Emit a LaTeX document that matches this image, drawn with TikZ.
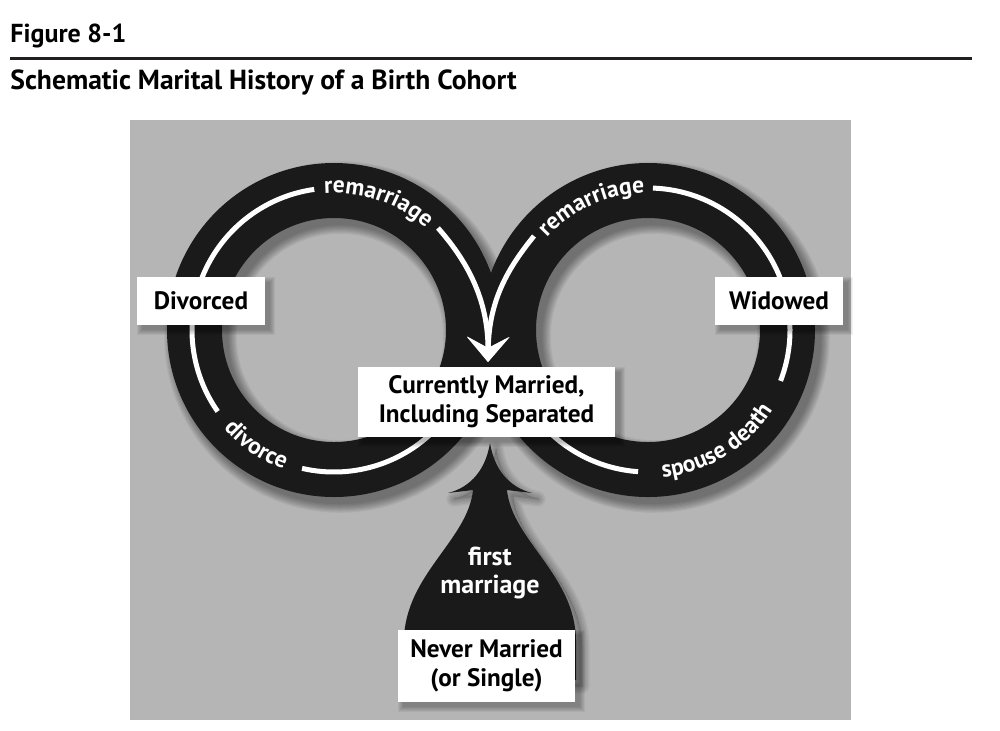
\documentclass[tikz,border=0pt]{standalone}
\usepackage{fontspec}
\setmainfont{PT Sans}
\usetikzlibrary{arrows.meta,calc,decorations.text}
\definecolor{bggray}{RGB}{181,181,181}
\definecolor{ringblack}{RGB}{26,26,26}
\definecolor{rulecol}{RGB}{35,31,32}
\tikzset{
  ring/.style={draw=ringblack, line width=27.5pt},
  stripe/.style={draw=white, line width=2.5pt, line cap=butt},
  junctiontip/.style={-{Stealth[length=12.5pt, width=21pt, inset=5.5pt]}},
  statebox/.style={fill=white, inner sep=0pt, align=center, text=black,
    font=\fontsize{12.6}{14.5}\selectfont\bfseries},
  headfont/.style={anchor=base west, inner sep=0pt, font=\fontsize{13}{15}\selectfont\bfseries},
  ringlabel/.style={decorate, decoration={text along path, text align=center,
    text color=white, text={|\fontsize{11.8}{13}\selectfont\bfseries|#1}}},
  fmshape/.style={insert path={(490,443) .. controls (486,468) and (472,487) .. (448,493)
    -- (473,490) .. controls (468,540) and (405,575) .. (404,640) -- (404,680) -- (576,680)
    -- (576,640) .. controls (575,575) and (512,540) .. (507,490) -- (532,493)
    .. controls (508,487) and (494,468) .. (490,443) -- cycle}},
}
\newcommand\softshadow[4]{%
  \foreach \k in {0,...,5}{%
    \fill[black, opacity=0.05] ({#1+5-\k},{#2+5-\k}) rectangle ({#3+5+\k},{#4+5+\k});}}
\begin{document}
\begin{tikzpicture}[x=0.5pt,y=-0.5pt]
\useasboundingbox (0,0) rectangle (1000,730);
\fill[white] (0,0) rectangle (1000,730);
% header
\node[headfont] (fig) at (10,42) {Figure 8-1};
\coordinate (ruleL) at (10,58);
\coordinate (ruleR) at (972,58);
\draw[rulecol, line width=1.5pt] (ruleL) -- (ruleR);
\node[headfont, font=\fontsize{13.8}{15}\selectfont\bfseries] (title) at (10,89) {Schematic Marital History of a Birth Cohort};
% panel
\fill[bggray] (130,120) rectangle (851,720);
\coordinate (Lc) at (334,330);
\coordinate (Rc) at (648,330);
% shadows of rings and arrow
\foreach \k in {0,...,7}{%
  \pgfmathsetmacro\lw{(55+2.5*\k)*0.5}
  \draw[black, opacity=0.055, line width=\lw pt] ($(Lc)+(6,7)$) circle[radius=139.5];
  \draw[black, opacity=0.055, line width=\lw pt] ($(Rc)+(6,7)$) circle[radius=139.5];
}
\foreach \k in {0,...,5}{%
  \pgfmathsetmacro\lw{1.5*\k}
  \draw[black, opacity=0.05, line width=\lw pt, line join=round, shift={(6,6)}, fmshape];
}
\fill[black, opacity=0.1, shift={(6,6)}, fmshape];
% rings and arrow
\draw[ring] (Lc) circle[radius=139.5];
\draw[ring] (Rc) circle[radius=139.5];
\fill[ringblack, fmshape];
% white flow stripes
\draw[stripe] ($(Lc)+(-165:142)$) arc[start angle=-165, end angle=-98, radius=142];
\draw[stripe] ($(Lc)+(185:142)$) arc[start angle=185, end angle=145, radius=142];
\draw[stripe] ($(Lc)+(40:142)$) arc[start angle=40, end angle=103, radius=142];
\draw[stripe] ($(Rc)+(-88:142)$) arc[start angle=-88, end angle=-10, radius=142];
\draw[stripe] ($(Rc)+(-3:142)$) arc[start angle=-3, end angle=21, radius=142];
\draw[stripe] ($(Rc)+(94:142)$) arc[start angle=94, end angle=140, radius=142];
\coordinate (J) at (488,362);
\coordinate (lrem) at (438,228);
\coordinate (rrem) at (534,236);
\draw[stripe, junctiontip] (lrem) .. controls (468,262) and (488,300) .. (J);
\draw[stripe, junctiontip] (rrem) .. controls (508,268) and (489,300) .. (J);
% ring labels
\path[ringlabel=remarriage] ($(Lc)+(-130:137)$) arc[start angle=-130, end angle=-12, radius=137];
\path[ringlabel=divorce] ($(Lc)+(175:148)$) arc[start angle=175, end angle=73, radius=148];
\path[ringlabel=remarriage] ($(Rc)+(-173:137)$) arc[start angle=-173, end angle=-56, radius=137];
\path[ringlabel={spouse death}] ($(Rc)+(117:148)$) arc[start angle=117, end angle=0, radius=148];
\node[font=\fontsize{13}{14}\selectfont\bfseries, text=white, align=center, inner sep=0pt] (fm) at (490,573) {first\\marriage};
% boxes
\softshadow{358}{367}{615}{437}
\softshadow{137}{277}{265}{325}
\softshadow{715}{277}{843}{325}
\softshadow{398}{630}{575}{702}
\node[statebox, minimum width=128.5pt, minimum height=35pt] (married) at (486.5,402) {Currently Married,\\Including Separated};
\node[statebox, minimum width=64pt, minimum height=24pt] (divorced) at (201,301) {Divorced};
\node[statebox, minimum width=64pt, minimum height=24pt] (widowed) at (779,301) {Widowed};
\node[statebox, minimum width=88.5pt, minimum height=36pt] (never) at (486.5,666) {Never Married\\(or Single)};
\end{tikzpicture}
\end{document}
